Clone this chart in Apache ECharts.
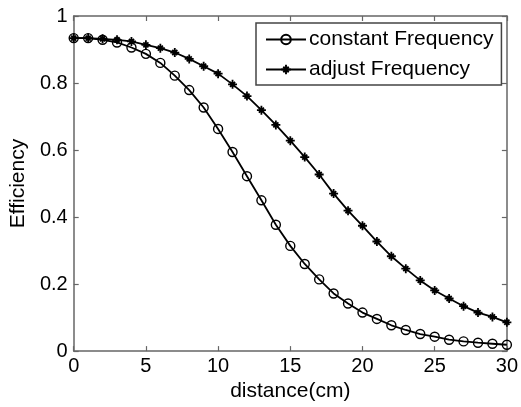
<!DOCTYPE html>
<html>
<head>
<meta charset="utf-8">
<script src="https://cdn.jsdelivr.net/npm/echarts@6/dist/echarts.min.js"></script>
<style>
  html, body { margin: 0; padding: 0; background: #fff; }
  #chart { width: 521px; height: 407px; }
</style>
</head>
<body>
<div id="chart"></div>
<script>
// distance in cm
const distance = [0, 1, 2, 3, 4, 5, 6, 7, 8, 9, 10, 11, 12, 13, 14, 15, 16, 17, 18, 19, 20, 21, 22, 23, 24, 25, 26, 27, 28, 29, 30];
const constantFreq = [0.934, 0.934, 0.929, 0.921, 0.906, 0.887, 0.860, 0.822, 0.779, 0.727, 0.663, 0.594, 0.522, 0.450, 0.377, 0.314,
  0.260, 0.214, 0.172, 0.142, 0.115, 0.096, 0.077, 0.063, 0.051, 0.043, 0.034, 0.029, 0.025, 0.022, 0.019];
const adjustFreq = [0.934, 0.934, 0.932, 0.929, 0.924, 0.914, 0.904, 0.891, 0.872, 0.850, 0.828, 0.796, 0.761, 0.719, 0.675, 0.628,
  0.579, 0.527, 0.470, 0.419, 0.374, 0.327, 0.283, 0.246, 0.211, 0.181, 0.157, 0.134, 0.115, 0.102, 0.086];
const seriesNames = ['constant Frequency', 'adjust Frequency'];

const FONT = 'Liberation Sans, Arial, sans-serif';
const AXIS_COLOR = '#666';

// matlab-like asterisk marker (plus + cross)
const ASTERISK = 'path://M-1,-5L1,-5L1,5L-1,5Z M-5,-1L5,-1L5,1L-5,1Z ' +
  'M-2.12,-3.54L3.54,2.12L2.12,3.54L-3.54,-2.12Z M-3.54,2.12L2.12,-3.54L3.54,-2.12L-2.12,3.54Z';

function pairs(ys) {
  return distance.map((x, i) => [x, ys[i]]);
}

const chart = echarts.init(document.getElementById('chart'), null, { renderer: 'canvas' });

const axisCommon = {
  type: 'value',
  axisLine: { show: true, onZero: false, lineStyle: { color: AXIS_COLOR, width: 1.5 } },
  axisTick: { show: true, inside: true, length: 5, lineStyle: { color: AXIS_COLOR, width: 1.2 } },
  splitLine: { show: false }
};

chart.setOption({
  animation: false,
  textStyle: { fontFamily: FONT },
  grid: { left: 71, right: 11, top: 16, bottom: 53 },
  legend: {
    orient: 'vertical',
    left: 256,
    top: 23,
    padding: [6, 8, 5, 9],
    itemWidth: 40,
    itemHeight: 12,
    itemGap: 9,
    borderColor: '#444',
    borderWidth: 1.5,
    backgroundColor: '#fff',
    textStyle: { fontFamily: FONT, fontSize: 21, color: '#000', lineHeight: 20, padding: [0, 0, 0, -2] },
    data: seriesNames
  },
  xAxis: [
    Object.assign({}, axisCommon, {
      min: 0, max: 30, interval: 5,
      name: 'distance(cm)',
      nameLocation: 'middle',
      nameGap: 24,
      nameTextStyle: { fontFamily: FONT, fontSize: 21, color: '#000' },
      axisLabel: { fontFamily: FONT, fontSize: 20, color: '#000', margin: 5 }
    }),
    Object.assign({}, axisCommon, {
      min: 0, max: 30, interval: 5, position: 'top',
      axisLabel: { show: false }
    })
  ],
  yAxis: [
    Object.assign({}, axisCommon, {
      min: 0, max: 1, interval: 0.2,
      name: 'Efficiency',
      nameLocation: 'middle',
      nameGap: 42,
      nameTextStyle: { fontFamily: FONT, fontSize: 21, color: '#000' },
      axisLabel: { fontFamily: FONT, fontSize: 20, color: '#000', margin: 6 }
    }),
    Object.assign({}, axisCommon, {
      min: 0, max: 1, interval: 0.2, position: 'right',
      axisLabel: { show: false }
    })
  ],
  series: [
    {
      name: seriesNames[0],
      type: 'line',
      data: pairs(constantFreq),
      symbol: 'circle',
      symbolSize: 9,
      showAllSymbol: true,
      lineStyle: { color: '#000', width: 1.8 },
      itemStyle: { color: 'rgba(255,255,255,0)', borderColor: '#000', borderWidth: 1.4 },
      z: 3
    },
    {
      name: seriesNames[1],
      type: 'line',
      data: pairs(adjustFreq),
      symbol: ASTERISK,
      symbolSize: 9,
      showAllSymbol: true,
      lineStyle: { color: '#000', width: 1.8 },
      itemStyle: { color: '#000', borderWidth: 0 },
      z: 4
    }
  ]
});
</script>
</body>
</html>
